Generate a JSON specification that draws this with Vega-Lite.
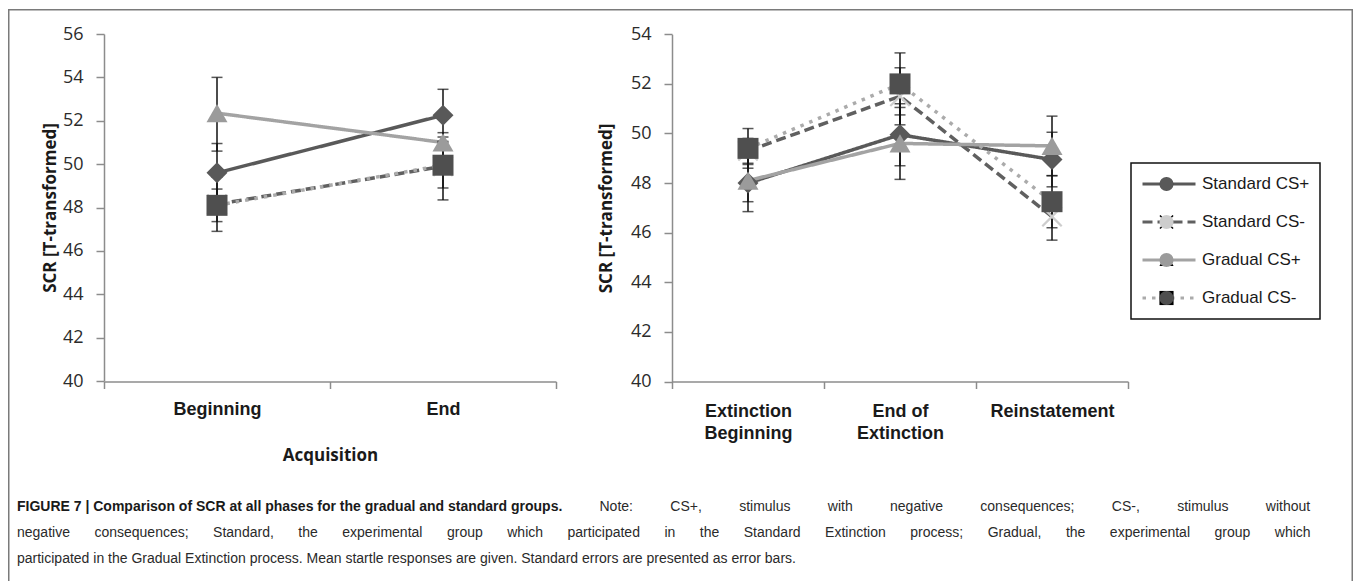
{
  "$schema": "https://vega.github.io/schema/vega-lite/v6.json",
  "width": 1345,
  "height": 572,
  "autosize": {"type": "none"},
  "padding": {"left": 8, "top": 9, "right": 3, "bottom": 0},
  "background": "white",
  "config": {
    "view": {"stroke": null},
    "axis": {"grid": false, "domainColor": "#8c8c8c", "domainWidth": 1.5, "tickColor": "#8c8c8c", "tickWidth": 1.5, "labelColor": "#2b2b2b", "titleColor": "#1a1a1a", "labelFlush": false, "labelOverlap": false},
    "legend": {"strokeWidth": 1.5}
  },
  "datasets": {
    "scr": [
      {"panel": "Acquisition", "phase": "Beginning", "series": "Standard CS+", "value": 49.6, "lo": 48.2, "hi": 50.95},
      {"panel": "Acquisition", "phase": "Beginning", "series": "Standard CS-", "value": 48.15, "lo": 46.9, "hi": 49.4},
      {"panel": "Acquisition", "phase": "Beginning", "series": "Gradual CS+", "value": 52.35, "lo": 50.6, "hi": 54.0},
      {"panel": "Acquisition", "phase": "Beginning", "series": "Gradual CS-", "value": 48.1, "lo": 47.35, "hi": 48.85},
      {"panel": "Acquisition", "phase": "End", "series": "Standard CS+", "value": 52.25, "lo": 51.05, "hi": 53.45},
      {"panel": "Acquisition", "phase": "End", "series": "Standard CS-", "value": 49.9, "lo": 48.35, "hi": 51.45},
      {"panel": "Acquisition", "phase": "End", "series": "Gradual CS+", "value": 51.0, "lo": 50.75, "hi": 51.25},
      {"panel": "Acquisition", "phase": "End", "series": "Gradual CS-", "value": 49.95, "lo": 48.9, "hi": 51.0},
      {"panel": "Extinction", "phase": "Extinction Beginning", "series": "Standard CS+", "value": 48.0, "lo": 47.25, "hi": 48.75},
      {"panel": "Extinction", "phase": "Extinction Beginning", "series": "Standard CS-", "value": 49.3, "lo": 48.8, "hi": 49.8},
      {"panel": "Extinction", "phase": "Extinction Beginning", "series": "Gradual CS+", "value": 48.1, "lo": 46.85, "hi": 49.35},
      {"panel": "Extinction", "phase": "Extinction Beginning", "series": "Gradual CS-", "value": 49.4, "lo": 48.6, "hi": 50.2},
      {"panel": "Extinction", "phase": "End of Extinction", "series": "Standard CS+", "value": 49.95, "lo": 48.7, "hi": 51.2},
      {"panel": "Extinction", "phase": "End of Extinction", "series": "Standard CS-", "value": 51.5, "lo": 50.35, "hi": 52.65},
      {"panel": "Extinction", "phase": "End of Extinction", "series": "Gradual CS+", "value": 49.6, "lo": 48.15, "hi": 51.05},
      {"panel": "Extinction", "phase": "End of Extinction", "series": "Gradual CS-", "value": 52.0, "lo": 50.75, "hi": 53.25},
      {"panel": "Extinction", "phase": "Reinstatement", "series": "Standard CS+", "value": 48.95, "lo": 47.85, "hi": 50.05},
      {"panel": "Extinction", "phase": "Reinstatement", "series": "Standard CS-", "value": 46.65, "lo": 45.7, "hi": 47.6},
      {"panel": "Extinction", "phase": "Reinstatement", "series": "Gradual CS+", "value": 49.5, "lo": 48.3, "hi": 50.7},
      {"panel": "Extinction", "phase": "Reinstatement", "series": "Gradual CS-", "value": 47.25, "lo": 46.2, "hi": 48.3}
    ],
    "caption": [
      {"line": 1, "segment": 1, "text": "FIGURE 7 | Comparison of SCR at all phases for the gradual and standard groups."},
      {"line": 1, "segment": 2, "text": "Note:\u2003\u2003\u2002\u2006CS+,\u2003\u2003\u2002\u2006stimulus\u2003\u2003\u2002\u2006with\u2003\u2003\u2002\u2006negative\u2003\u2003\u2002\u2006consequences;\u2003\u2003\u2002\u2006CS-,\u2003\u2003\u2002\u2006stimulus\u2003\u2003\u2002\u2006without"},
      {"line": 2, "segment": 1, "text": "negative\u2003\u2002\u2005consequences;\u2003\u2002\u2005Standard,\u2003\u2002\u2005the\u2003\u2002\u2005experimental\u2003\u2002\u2005group\u2003\u2002\u2005which\u2003\u2002\u2005participated\u2003\u2002\u2005in\u2003\u2002\u2005the\u2003\u2002\u2005Standard\u2003\u2002\u2005Extinction\u2003\u2002\u2005process;\u2003\u2002\u2005Gradual,\u2003\u2002\u2005the\u2003\u2002\u2005experimental\u2003\u2002\u2005group\u2003\u2002\u2005which"},
      {"line": 3, "segment": 1, "text": "participated in the Gradual Extinction process. Mean startle responses are given. Standard errors are presented as error bars."}
    ]
  },
  "layer": [
    {
      "data": {"values": [{}]},
      "mark": {"type": "rect", "fill": null, "stroke": "#7a7a7a", "strokeWidth": 1.5, "clip": true},
      "encoding": {"x": {"value": 0.75}, "x2": {"value": 1344.25}, "y": {"value": 0.75}, "y2": {"value": 620}}
    },
    {
      "data": {"name": "scr"},
      "transform": [{"filter": "datum.panel == 'Acquisition'"}],
      "encoding": {
        "x": {"field": "phase", "type": "nominal", "sort": ["Beginning", "End"],
          "scale": {"type": "band", "range": [96, 548], "paddingInner": 0, "paddingOuter": 0},
          "axis": {"orient": "bottom", "offset": -199.5, "title": "Acquisition", "titleFont": "Open Sans", "titleFontSize": 17, "titleFontWeight": "bold", "titlePadding": 29,
            "labelFont": "Liberation Sans", "labelFontSize": 18, "labelFontWeight": "bold", "labelColor": "#1a1a1a", "labelAngle": 0, "labelPadding": 12, "tickBand": "extent", "tickSize": 7}},
        "y": {"field": "value", "type": "quantitative",
          "scale": {"domain": [40, 56], "range": [372, 25], "nice": false, "zero": false},
          "axis": {"orient": "left", "offset": -96, "title": "SCR [T-transformed]", "values": [40, 42, 44, 46, 48, 50, 52, 54, 56],
            "titleFont": "Open Sans", "titleFontSize": 17, "titleFontWeight": "bold", "titlePadding": 3,
            "labelFont": "Open Sans", "labelFontSize": 18, "labelPadding": 13, "tickSize": 8}}
      },
      "layer": [
        {
          "mark": {"type": "line", "strokeWidth": 3.5},
          "encoding": {
            "order": {"value": null},
            "stroke": {"field": "series", "type": "nominal",
              "scale": {"domain": ["Standard CS+", "Standard CS-", "Gradual CS+", "Gradual CS-"], "range": ["#595959", "#606060", "#a3a3a3", "#ababab"]},
              "legend": {"orient": "none", "legendX": 1123, "legendY": 154, "title": null, "symbolType": "stroke", "symbolSize": 2809, "symbolStrokeWidth": 3, "strokeColor": "#111111", "padding": 10, "clipHeight": 22, "rowPadding": 16, "labelFont": "Liberation Sans", "labelFontSize": 17, "labelColor": "#1a1a1a", "labelOffset": 5}},
            "strokeDash": {"field": "series", "type": "nominal",
              "scale": {"domain": ["Standard CS+", "Standard CS-", "Gradual CS+", "Gradual CS-"], "range": [[1, 0], [10, 5], [1, 0], [3.5, 6]]},
              "legend": {"orient": "none", "legendX": 1123, "legendY": 154, "title": null, "symbolType": "stroke", "symbolSize": 2809, "symbolStrokeWidth": 3, "strokeColor": "#111111", "padding": 10, "clipHeight": 22, "rowPadding": 16, "labelFont": "Liberation Sans", "labelFontSize": 17, "labelColor": "#1a1a1a", "labelOffset": 5}}
          }
        },
        {
          "mark": {"type": "errorbar", "ticks": {"size": 11, "thickness": 1.5, "color": "#111111"}, "rule": {"strokeWidth": 1.5, "color": "#111111"}},
          "encoding": {"y": {"field": "lo", "type": "quantitative"}, "y2": {"field": "hi"}}
        },
        {
          "mark": {"type": "point", "filled": true, "size": 441, "opacity": 1, "strokeWidth": 0},
          "encoding": {
            "fill": {"field": "series", "type": "nominal", "sort": ["Standard CS+", "Standard CS-", "Gradual CS+", "Gradual CS-"],
              "scale": {"range": ["#595959", "#cdcdcd", "#9b9b9b", "#4f4f4f"]},
              "legend": {"orient": "none", "legendX": 1140, "legendY": 154, "title": null, "symbolSize": 200, "symbolStrokeWidth": 0, "symbolOpacity": 1, "padding": 10, "clipHeight": 22, "rowPadding": 16, "labelExpr": "''", "labelFontSize": 17}},
            "shape": {"field": "series", "type": "nominal", "sort": ["Standard CS+", "Standard CS-", "Gradual CS+", "Gradual CS-"],
              "scale": {"range": ["diamond", "M-1,-0.85L-0.85,-1L0,-0.15L0.85,-1L1,-0.85L0.15,0L1,0.85L0.85,1L0,0.15L-0.85,1L-1,0.85L-0.15,0Z", "triangle-up", "square"]},
              "legend": {"orient": "none", "legendX": 1140, "legendY": 154, "title": null, "symbolSize": 200, "symbolStrokeWidth": 0, "symbolOpacity": 1, "padding": 10, "clipHeight": 22, "rowPadding": 16, "labelExpr": "''", "labelFontSize": 17}}
          }
        }
      ]
    },
    {
      "data": {"name": "scr"},
      "transform": [{"filter": "datum.panel == 'Extinction'"}],
      "encoding": {
        "x": {"field": "phase", "type": "nominal", "sort": ["Extinction Beginning", "End of Extinction", "Reinstatement"],
          "scale": {"type": "band", "range": [664, 1120], "paddingInner": 0, "paddingOuter": 0},
          "axis": {"orient": "bottom", "offset": -199.5, "title": null,
            "labelFont": "Liberation Sans", "labelFontSize": 18, "labelFontWeight": "bold", "labelColor": "#1a1a1a", "labelAngle": 0, "labelPadding": 14, "labelLineHeight": 21.5,
            "labelExpr": "datum.label == 'Extinction Beginning' ? ['Extinction', 'Beginning'] : datum.label == 'End of Extinction' ? ['End of', 'Extinction'] : datum.label",
            "tickBand": "extent", "tickSize": 7}},
        "y": {"field": "value", "type": "quantitative",
          "scale": {"domain": [40, 54], "range": [372.5, 25.3], "nice": false, "zero": false},
          "axis": {"orient": "left", "offset": -664, "title": "SCR [T-transformed]", "values": [40, 42, 44, 46, 48, 50, 52, 54],
            "titleFont": "Open Sans", "titleFontSize": 17, "titleFontWeight": "bold", "titlePadding": 15,
            "labelFont": "Open Sans", "labelFontSize": 18, "labelPadding": 13, "tickSize": 8}}
      },
      "layer": [
        {
          "mark": {"type": "line", "strokeWidth": 3.5},
          "encoding": {
            "order": {"value": null},
            "stroke": {"field": "series", "type": "nominal", "scale": {"domain": ["Standard CS+", "Standard CS-", "Gradual CS+", "Gradual CS-"]}},
            "strokeDash": {"field": "series", "type": "nominal", "scale": {"domain": ["Standard CS+", "Standard CS-", "Gradual CS+", "Gradual CS-"]}}
          }
        },
        {
          "mark": {"type": "errorbar", "ticks": {"size": 11, "thickness": 1.5, "color": "#111111"}, "rule": {"strokeWidth": 1.5, "color": "#111111"}},
          "encoding": {"y": {"field": "lo", "type": "quantitative"}, "y2": {"field": "hi"}}
        },
        {
          "mark": {"type": "point", "filled": true, "size": 441, "opacity": 1, "strokeWidth": 0},
          "encoding": {
            "fill": {"field": "series", "type": "nominal", "sort": ["Standard CS+", "Standard CS-", "Gradual CS+", "Gradual CS-"]},
            "shape": {"field": "series", "type": "nominal", "sort": ["Standard CS+", "Standard CS-", "Gradual CS+", "Gradual CS-"]}
          }
        }
      ]
    },
    {
      "data": {"name": "caption"},
      "encoding": {
        "x": {"field": "segment", "type": "ordinal", "scale": {"type": "point", "domain": [1, 2], "range": [9, 591.5], "padding": 0}, "axis": null},
        "y": {"field": "line", "type": "quantitative", "scale": {"domain": [1, 3], "range": [498, 550], "zero": false, "nice": false}, "axis": null},
        "text": {"field": "text"}
      },
      "layer": [
        {
          "transform": [{"filter": "datum.line == 1 && datum.segment == 1"}],
          "mark": {"type": "text", "align": "left", "baseline": "middle", "font": "Liberation Sans", "fontSize": 14, "fontWeight": "bold", "color": "#1a1a1a"}
        },
        {
          "transform": [{"filter": "!(datum.line == 1 && datum.segment == 1)"}],
          "mark": {"type": "text", "align": "left", "baseline": "middle", "font": "Liberation Sans", "fontSize": 14, "color": "#2a2a2a"}
        }
      ]
    }
  ],
  "resolve": {"scale": {"x": "independent", "y": "independent"}}
}
